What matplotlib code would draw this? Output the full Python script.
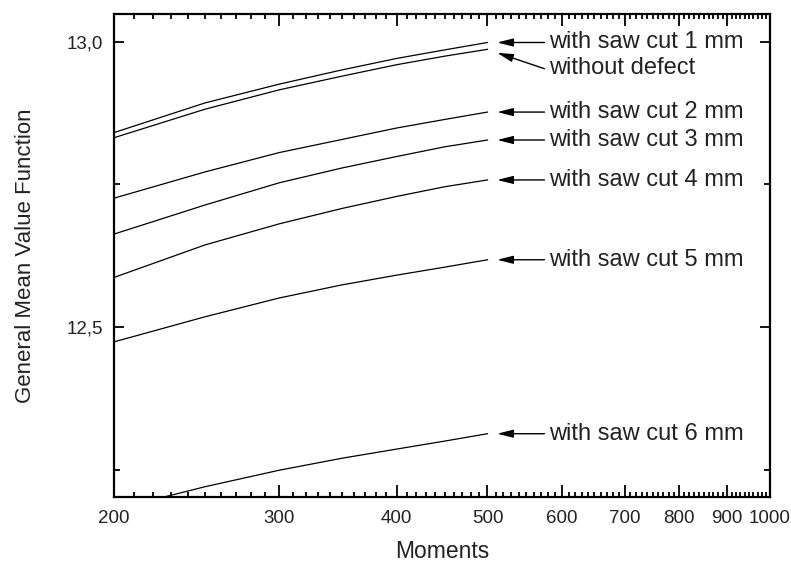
import matplotlib
matplotlib.use("Agg")
import matplotlib.pyplot as plt
from matplotlib.ticker import FixedLocator, NullFormatter, FuncFormatter

plt.rcParams['font.family'] = ['Liberation Sans', 'DejaVu Sans']

# moments (log axis) and the mean value function for each specimen
moments = [200, 250, 300, 350, 400, 450, 500]
without_defect = [12.832, 12.882, 12.916, 12.940, 12.960, 12.975, 12.987]
saw_cut_1mm = [12.841, 12.893, 12.926, 12.951, 12.971, 12.986, 12.999]
saw_cut_2mm = [12.726, 12.772, 12.806, 12.829, 12.849, 12.864, 12.877]
saw_cut_3mm = [12.663, 12.714, 12.753, 12.779, 12.799, 12.816, 12.828]
saw_cut_4mm = [12.587, 12.644, 12.681, 12.708, 12.729, 12.746, 12.758]
saw_cut_5mm = [12.474, 12.518, 12.551, 12.574, 12.591, 12.605, 12.618]
saw_cut_6mm = [12.180, 12.220, 12.249, 12.270, 12.286, 12.300, 12.313]

labels = ["with saw cut 1 mm", "without defect", "with saw cut 2 mm",
          "with saw cut 3 mm", "with saw cut 4 mm", "with saw cut 5 mm",
          "with saw cut 6 mm"]
series = [saw_cut_1mm, without_defect, saw_cut_2mm, saw_cut_3mm,
          saw_cut_4mm, saw_cut_5mm, saw_cut_6mm]

x_ticks = [200, 300, 400, 500, 600, 700, 800, 900, 1000]
y_ticks = [12.5, 13.0]

fig = plt.figure(figsize=(7.91, 5.66), dpi=100)
ax = fig.add_axes([0.1441, 0.1219, 0.8294, 0.8534])

for ys in series:
    ax.plot(moments, ys, color='black', lw=0.9)

ax.set_xscale('log')
ax.set_xlim(200, 1000)
ax.set_ylim(12.202, 13.049)

ax.xaxis.set_major_locator(FixedLocator(x_ticks))
ax.xaxis.set_minor_locator(FixedLocator(range(200, 1001, 10)))
ax.xaxis.set_major_formatter(FuncFormatter(lambda v, p: "%d" % v))
ax.xaxis.set_minor_formatter(NullFormatter())

ax.yaxis.set_major_locator(FixedLocator(y_ticks))
ax.yaxis.set_minor_locator(FixedLocator([12.25, 12.75]))
ax.yaxis.set_major_formatter(FuncFormatter(lambda v, p: ("%.1f" % v).replace('.', ',')))

ax.tick_params(which='both', direction='in', top=True, right=True,
               width=1.3, colors='black', labelcolor='#222222', labelsize=13.5)
ax.tick_params(axis='x', which='major', length=8.5, pad=9)
ax.tick_params(axis='x', which='minor', length=3.8)
ax.tick_params(axis='y', which='major', length=7.5, pad=8)
ax.tick_params(axis='y', which='minor', length=4.2)

for s in ax.spines.values():
    s.set_linewidth(1.6)

ax.set_xlabel("Moments", fontsize=16.5, color='#222222', labelpad=10)
ax.set_ylabel("General Mean Value Function", fontsize=16, color='#222222', labelpad=22)

# arrows from the curve ends to the labels on the right
arrow_kw = dict(arrowstyle='-|>,head_length=0.8,head_width=0.2',
                color='black', lw=1.0, mutation_scale=12, shrinkA=0, shrinkB=0)
for name, ys in zip(labels, series):
    head = (512, ys[-1])
    text_y = ys[-1]
    tail_y = ys[-1]
    if name == "without defect":
        head = (512, ys[-1] - 0.006)
        text_y = ys[-1] - 0.032
        tail_y = ys[-1] - 0.034
    ax.annotate('', xy=head, xytext=(575, tail_y), arrowprops=arrow_kw,
                annotation_clip=False)
    ax.text(582, text_y, name, fontsize=17, color='#222222',
            ha='left', va='center')

fig.savefig("out.png", dpi=100)
